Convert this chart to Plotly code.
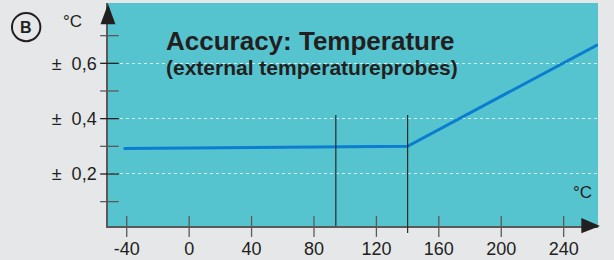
import plotly.graph_objects as go

# Data
curve_x = [-42, 140, 262]
curve_y = [0.292, 0.300, 0.668]
marker_x = [94, 140]          # vertical reference lines
marker_top = 0.413
x_ticks = [-40, 0, 40, 80, 120, 160, 200, 240]
x_tick_labels = ["-40", "0", "40", "80", "120", "160", "200", "240"]
y_major = [0.2, 0.4, 0.6]
y_major_labels = ["±  0,2", "±  0,4", "±  0,6"]
y_minor = [0.1, 0.3, 0.5, 0.7]
x_range = [-52, 262]
y_range = [0.012, 0.818]

TXT = "#231f20"
AX = "#5a5a5a"
FONT = "Liberation Sans, Arial, sans-serif"

fig = go.Figure()
fig.add_trace(go.Scatter(x=curve_x, y=curve_y, mode="lines",
                         line=dict(color="#0a7dd0", width=3), hoverinfo="skip"))

shapes = []
# x ticks crossing the axis
for t in x_ticks:
    shapes.append(dict(type="line", xref="x", yref="paper", x0=t, x1=t, y0=-0.049, y1=0.045,
                       line=dict(color=AX, width=1.3)))
# y ticks crossing the axis
for t in y_major:
    shapes.append(dict(type="line", xref="paper", yref="y", x0=-0.016, x1=0.022, y0=t, y1=t,
                       line=dict(color=TXT, width=1.3)))
for t in y_minor:
    shapes.append(dict(type="line", xref="paper", yref="y", x0=-0.016, x1=0.022, y0=t, y1=t,
                       line=dict(color=AX, width=1.3)))
# vertical markers
for i, mx in enumerate(marker_x):
    shapes.append(dict(type="line", xref="x", yref="y", x0=mx, x1=mx, y0=marker_top, y1=y_range[0],
                       line=dict(color="#2a2a2a", width=1.2)))
shapes.append(dict(type="line", xref="x", yref="paper", x0=marker_x[1], x1=marker_x[1], y0=0, y1=-0.031,
                   line=dict(color="#2a2a2a", width=1.2)))
# axis arrows
shapes.append(dict(type="path", xref="paper", yref="paper",
                   path="M -0.0153 0.905 L 0 0.995 L 0.0153 0.905 Z",
                   fillcolor=TXT, line=dict(color=TXT, width=0)))
shapes.append(dict(type="path", xref="paper", yref="paper",
                   path="M 0.966 0.036 L 1.004 0.0 L 0.966 -0.033 Z",
                   fillcolor=TXT, line=dict(color=TXT, width=0)))
# circle B
shapes.append(dict(type="circle", xref="paper", yref="paper",
                   x0=-0.196, x1=-0.138, y0=0.829, y1=0.955,
                   line=dict(color=TXT, width=2)))

annotations = [
    dict(text="<b>B</b>", x=-0.167, y=0.892, xref="paper", yref="paper", showarrow=False,
         xanchor="center", yanchor="middle",
         font=dict(size=16, color=TXT, family=FONT)),
    dict(text="°C", x=-0.073, y=0.915, xref="paper", yref="paper", showarrow=False,
         xanchor="center", yanchor="middle",
         font=dict(size=17, color=TXT, family=FONT)),
    dict(text="°C", x=0.969, y=0.152, xref="paper", yref="paper", showarrow=False,
         xanchor="center", yanchor="middle",
         font=dict(size=17, color=TXT, family=FONT)),
    dict(text="<b>Accuracy: Temperature</b>", x=0.114, y=0.830, xref="paper", yref="paper",
         xanchor="left", yanchor="middle", showarrow=False,
         font=dict(size=26, color=TXT, family=FONT)),
    dict(text="<b>(external temperatureprobes)</b>", x=0.114, y=0.709, xref="paper", yref="paper",
         xanchor="left", yanchor="middle", showarrow=False,
         font=dict(size=21, color=TXT, family=FONT)),
]

fig.update_layout(
    width=614, height=260,
    margin=dict(l=108, r=16, t=3, b=34),
    paper_bgcolor="#e6e7e9",
    plot_bgcolor="#56c4cf",
    showlegend=False,
    shapes=shapes,
    annotations=annotations,
    font=dict(family=FONT, color=TXT),
)
fig.update_xaxes(range=x_range, tickmode="array", tickvals=x_ticks, ticktext=x_tick_labels,
                 ticks="outside", ticklen=6, tickcolor="rgba(0,0,0,0)", automargin=False,
                 showline=True, linecolor=AX, linewidth=1.5, showgrid=False, zeroline=False,
                 tickfont=dict(size=18, color=TXT, family=FONT))
fig.update_yaxes(range=y_range, tickmode="array", tickvals=y_major, ticktext=y_major_labels,
                 ticks="outside", ticklen=6, tickcolor="rgba(0,0,0,0)", automargin=False,
                 showline=True, linecolor=AX, linewidth=1.5,
                 showgrid=True, gridcolor="rgba(255,255,255,0.75)", griddash="dot", gridwidth=1,
                 zeroline=False, tickfont=dict(size=18, color=TXT, family=FONT))

fig.write_html("out.html", config={"displayModeBar": False},
               post_script="document.body.style.margin='0';document.body.style.padding='0';")
